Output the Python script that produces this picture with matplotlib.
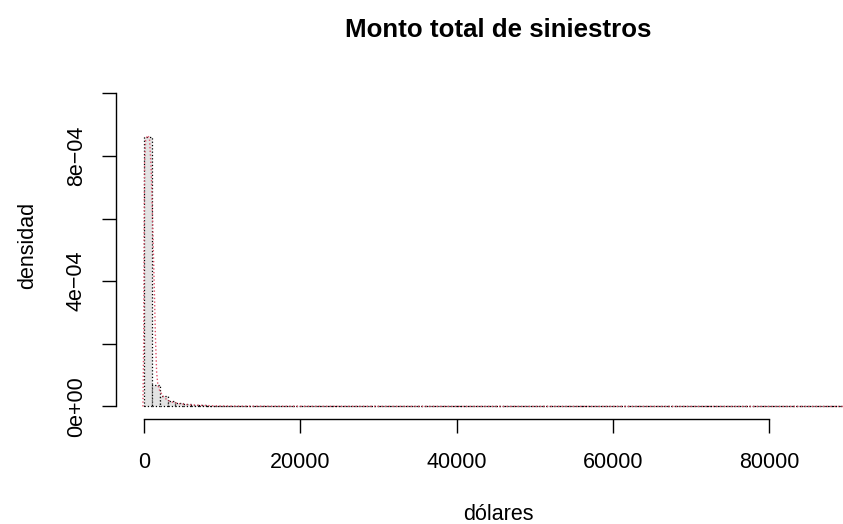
import matplotlib
matplotlib.use("Agg")
import matplotlib.pyplot as plt
import numpy as np

plt.rcParams['font.family'] = ['Liberation Sans', 'DejaVu Sans']

# histogram: breaks of 1000 dollars, density values (x 1e-4)
bin_width = 1000
hist_dens = [
    8.61, 0.70, 0.32, 0.19, 0.12, 0.08, 0.06, 0.04, 0.03, 0.025,
    0.020, 0.015, 0.012, 0.010, 0.008, 0.007, 0.006, 0.005, 0.005, 0.004,
    0.004, 0.003, 0.003, 0.003, 0.002, 0.002, 0.002, 0.002, 0.001, 0.001,
    0.001, 0.001, 0.001, 0.0, 0.001, 0.0, 0.001, 0.0, 0.0, 0.001,
    0.0, 0.0, 0.001, 0.0, 0.0, 0.0, 0.001, 0.0, 0.0, 0.0,
    0.0, 0.001, 0.0, 0.0, 0.0, 0.0, 0.0, 0.001, 0.0, 0.0,
    0.0, 0.0, 0.0, 0.0, 0.001, 0.0, 0.0, 0.0, 0.0, 0.0,
    0.0, 0.0, 0.0, 0.001, 0.0, 0.0, 0.0, 0.0, 0.0, 0.0,
    0.0, 0.0, 0.0, 0.0, 0.0, 0.0, 0.001, 0.0, 0.0, 0.0,
    0.001,
]

# kernel density estimate, y x 1e-4
dens_x = [-150, -60, 0, 60, 200, 400, 600, 700, 900, 1100, 1300, 1450, 1600,
          1750, 2000, 2500, 3000, 3600, 4500, 5500, 7000, 9000, 12000, 20000,
          40000, 60000, 80000, 91000, 93000]
dens_y = [0.0, 2.0, 5.5, 7.8, 8.5, 8.65, 8.6, 8.5, 7.6, 5.8, 3.8, 2.2, 1.1,
          0.7, 0.5, 0.3, 0.2, 0.14, 0.09, 0.06, 0.04, 0.02, 0.01, 0.005,
          0.002, 0.002, 0.001, 0.001, 0.0]

xticks = [0, 20000, 40000, 60000, 80000]
yticks = [0, 2e-4, 4e-4, 6e-4, 8e-4, 1e-3]
ytick_labels = ['0e+00', '', '4e\u221204', '', '8e\u221204', '']

fig = plt.figure(figsize=(8.43, 5.24), dpi=100)
ax = fig.add_axes([116 / 843, 105 / 524, (880 - 116) / 843, (443.3 - 105) / 524])

left = np.arange(len(hist_dens)) * bin_width
heights = np.array(hist_dens) * 1e-4
ax.bar(left, heights, width=bin_width, align='edge', color='#E3E3E3',
       edgecolor='black', linestyle=':', linewidth=0.9)
ax.plot(dens_x, np.array(dens_y) * 1e-4, color='#DF536B', linestyle=':',
        linewidth=1.0)

ax.set_xlim(-3600, 94200)
ax.set_ylim(-0.04e-3, 1.04e-3)

for s in ['top', 'right']:
    ax.spines[s].set_visible(False)
ax.spines['left'].set_bounds(0, 1e-3)
ax.spines['bottom'].set_bounds(0, 80000)
ax.spines['left'].set_linewidth(1.0)
ax.spines['bottom'].set_linewidth(1.0)

ax.set_xticks(xticks)
ax.set_xticklabels([str(t) for t in xticks])
ax.set_yticks(yticks)
ax.set_yticklabels(ytick_labels, rotation=90, va='center')
ax.tick_params(axis='both', length=10, width=1.0, labelsize=15.5)
ax.tick_params(axis='x', pad=14)
ax.tick_params(axis='y', pad=11)

fig.text(498 / 843, 1 - 30 / 524, 'Monto total de siniestros',
         fontsize=18.6, fontweight='bold', ha='center', va='center')
fig.text(498 / 843, 1 - 514 / 524, 'dólares', fontsize=15.5,
         ha='center', va='center')
fig.text(28 / 843, 1 - 245 / 524, 'densidad', fontsize=15.5,
         ha='center', va='center', rotation=90)

fig.savefig('out.png', dpi=100)
